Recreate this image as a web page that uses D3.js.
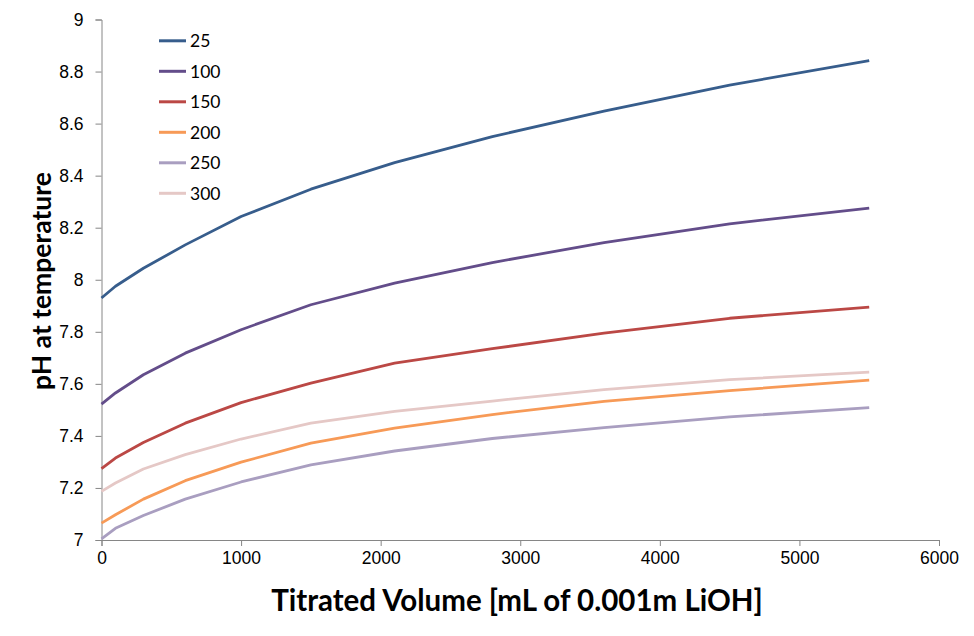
<!DOCTYPE html>
<html>
<head>
<meta charset="utf-8">
<script src="https://cdn.jsdelivr.net/npm/d3@7"></script>
<style>
  body { margin: 0; background: #fff; }
  svg { display: block; font-family: Lato, Carlito, 'Open Sans', sans-serif; }
</style>
</head>
<body>
<script>
var
  volumes = [0, 100, 300, 600, 1000, 1500, 2100, 2800, 3600, 4500, 5500],

  temps = ['25', '100', '150', '200', '250', '300'],

  ph25  = [7.930, 7.975, 8.044, 8.134, 8.243, 8.348, 8.450, 8.550, 8.648, 8.748, 8.842],
  ph100 = [7.522, 7.565, 7.635, 7.718, 7.808, 7.904, 7.987, 8.066, 8.143, 8.215, 8.275],
  ph150 = [7.274, 7.315, 7.375, 7.449, 7.528, 7.603, 7.680, 7.735, 7.795, 7.852, 7.895],
  ph200 = [7.065, 7.097, 7.157, 7.228, 7.299, 7.372, 7.430, 7.482, 7.533, 7.574, 7.614],
  ph250 = [7.004, 7.045, 7.094, 7.157, 7.223, 7.289, 7.342, 7.390, 7.432, 7.473, 7.509],
  ph300 = [7.187, 7.219, 7.273, 7.328, 7.388, 7.449, 7.494, 7.534, 7.578, 7.616, 7.645],

  series = [ph25, ph100, ph150, ph200, ph250, ph300],

  colors = ['#375d8c', '#634d8a', '#bb4845', '#f79a57', '#a99ec0', '#e5c8c6'],

  xTicks = [0, 1000, 2000, 3000, 4000, 5000, 6000],
  yTicks = [7, 7.2, 7.4, 7.6, 7.8, 8, 8.2, 8.4, 8.6, 8.8, 9],

  config = {
    w : 974,
    h : 636,
    left : 101.5,
    right : 939,
    top : 19.5,
    bottom : 540
  },

  svg, x, y,

  drawAxes = function drawAxes() {
    var gx = svg.append('g')
      .attr('transform', 'translate(0,' + config.bottom + ')')
      .call(d3.axisBottom(x).tickValues(xTicks).tickSize(6).tickPadding(6).tickFormat(d3.format('d')));

    var gy = svg.append('g')
      .attr('transform', 'translate(' + config.left + ',0)')
      .call(d3.axisLeft(y).tickValues(yTicks).tickSize(6).tickPadding(12).tickFormat(function (d) { return String(+d.toFixed(1)); }));

    [gx, gy].forEach(function (g) {
      g.select('.domain').attr('stroke', '#868686');
      g.selectAll('.tick line').attr('stroke', '#868686');
      g.selectAll('.tick text').attr('fill', '#000').style('font-size', '17.5px');
    });
  },

  drawLines = function drawLines() {
    var line = d3.line()
      .x(function (d) { return x(d[0]); })
      .y(function (d) { return y(d[1]); });

    svg.append('g').selectAll('path')
      .data(series)
      .enter().append('path')
      .attr('fill', 'none')
      .attr('stroke', function (d, i) { return colors[i]; })
      .attr('stroke-width', 2.8)
      .attr('stroke-linejoin', 'round')
      .attr('d', function (d) { return line(d3.zip(volumes, d)); });
  },

  drawLegend = function drawLegend() {
    var rows = svg.append('g').selectAll('g')
      .data(temps)
      .enter().append('g')
      .attr('transform', function (d, i) { return 'translate(159,' + (40.8 + i * 30.5) + ')'; });

    rows.append('line')
      .attr('x1', 0).attr('x2', 27)
      .attr('stroke', function (d, i) { return colors[i]; })
      .attr('stroke-width', 3);

    rows.append('text')
      .attr('x', 31).attr('dy', '0.36em')
      .style('font-size', '17.5px')
      .text(function (d) { return d; });
  },

  drawTitles = function drawTitles() {
    svg.append('text')
      .attr('x', 517)
      .attr('y', 611)
      .attr('text-anchor', 'middle')
      .style('font-size', '29.5px').style('font-weight', 'bold')
      .text('Titrated Volume [mL of 0.001m LiOH]');

    svg.append('text')
      .attr('transform', 'translate(51,281) rotate(-90)')
      .attr('text-anchor', 'middle')
      .style('font-size', '26.5px').style('font-weight', 'bold')
      .text('pH at temperature');
  },

  init = function init() {
    svg = d3.select('body').append('svg')
      .attr('width', config.w).attr('height', config.h);

    x = d3.scaleLinear().domain([0, 6000]).range([config.left, config.right]);
    y = d3.scaleLinear().domain([7, 9]).range([config.bottom, config.top]);

    drawAxes();
    drawLines();
    drawLegend();
    drawTitles();
  };

init();
</script>
</body>
</html>
